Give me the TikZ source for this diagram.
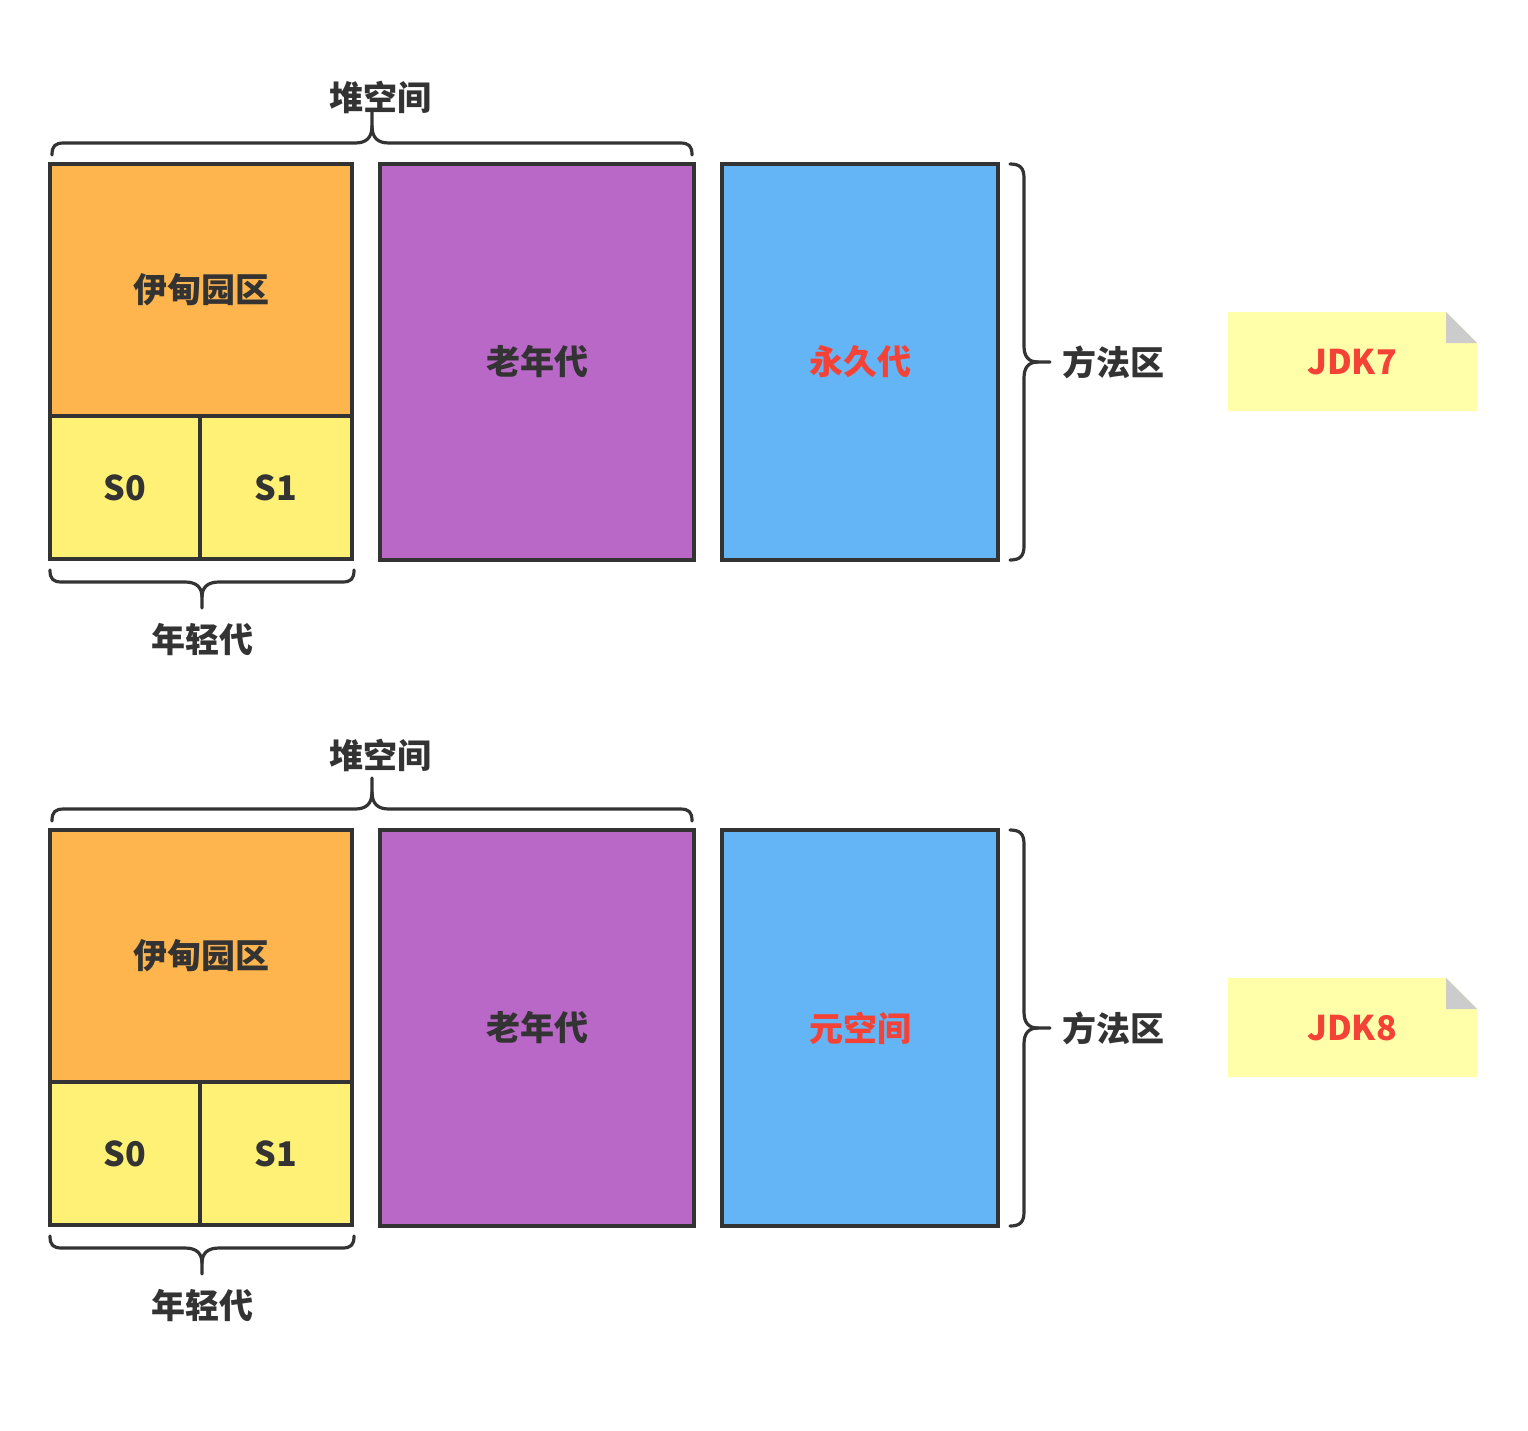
\documentclass[tikz,border=0pt]{standalone}
\usepackage{fontspec}
\setmainfont{Noto Sans CJK SC}
\definecolor{ink}{HTML}{333333}
\definecolor{edenc}{HTML}{FFB54D}
\definecolor{survc}{HTML}{FFF176}
\definecolor{oldc}{HTML}{B968C7}
\definecolor{permc}{HTML}{64B5F6}
\definecolor{notec}{HTML}{FFFFAA}
\definecolor{foldc}{HTML}{CCCCCC}
\definecolor{redc}{HTML}{F44336}
\tikzset{
  box/.style={draw=ink, line width=4pt, rectangle, inner sep=0pt},
  lbl/.style={text=ink, font=\fontsize{34}{40}\selectfont\bfseries, inner sep=0pt},
  redlbl/.style={text=redc, font=\fontsize{34}{40}\selectfont\bfseries, inner sep=0pt},
  brace/.style={draw=ink, line width=3.2pt, line cap=round, line join=round}
}
\newcommand{\panel}[4]{%
  \begin{scope}[shift={(0,#1)}]
    \node[box, fill=edenc, minimum width=302pt, minimum height=252pt] (eden#3) at (201,290) {};
    \node[lbl] at (eden#3.center) {伊甸园区};
    \node[box, fill=survc, minimum width=150pt, minimum height=143pt] (szero#3) at (125,487.5) {};
    \node[lbl] at (szero#3.center) {S0};
    \node[box, fill=survc, minimum width=152pt, minimum height=143pt] (sone#3) at (276,487.5) {};
    \node[lbl] at (sone#3.center) {S1};
    \node[box, fill=oldc, minimum width=314pt, minimum height=396pt] (old#3) at (537,362) {};
    \node[lbl] at (old#3.center) {老年代};
    \node[box, fill=permc, minimum width=276pt, minimum height=396pt] (perm#3) at (860,362) {};
    \node[redlbl] at (perm#3.center) {#2};
    % heap brace
    \coordinate (heaptip#3) at (372,112);
    \draw[brace] (52,155) .. controls (52,146) and (55,143) .. (64,143) -- (355,143)
      .. controls (366,143) and (372,138) .. (372,126) -- (heaptip#3);
    \draw[brace] (372,126) .. controls (372,138) and (378,143) .. (389,143) -- (680,143)
      .. controls (689,143) and (692,146) .. (692,155);
    \node[lbl] (heaplbl#3) at (380,#4) {堆空间};
    % young brace
    \coordinate (youngtip#3) at (202,608);
    \draw[brace] (50,570) .. controls (50,579) and (53,582) .. (62,582) -- (185,582)
      .. controls (196,582) and (202,587) .. (202,597) -- (youngtip#3);
    \draw[brace] (202,597) .. controls (202,587) and (208,582) .. (219,582) -- (342,582)
      .. controls (351,582) and (354,579) .. (354,570);
    \node[lbl] (younglbl#3) at (202,640) {年轻代};
    % method area brace
    \coordinate (methtip#3) at (1050,362);
    \draw[brace] (1010,164) .. controls (1020,164) and (1024,168) .. (1024,178) -- (1024,346)
      .. controls (1024,356) and (1028,362) .. (1038,362) -- (methtip#3);
    \draw[brace] (1038,362) .. controls (1028,362) and (1024,368) .. (1024,378) -- (1024,546)
      .. controls (1024,556) and (1020,560) .. (1010,560);
    \node[lbl] (methlbl#3) at (1113,362) {方法区};
    % note
    \fill[notec] (1228,312) -- (1446,312) -- (1477,343) -- (1477,411) -- (1228,411) -- cycle;
    \fill[foldc] (1446,312) -- (1477,343) -- (1446,343) -- cycle;
    \node[redlbl] (note#3) at (1352,362) {JDK#3};
  \end{scope}}
\begin{document}
\begin{tikzpicture}[x=1pt,y=-1pt]
  \useasboundingbox (0,0) rectangle (1528,1430);
  \fill[white] (0,0) rectangle (1528,1430);
  \panel{0}{永久代}{7}{97}
  \panel{666}{元空间}{8}{89}
\end{tikzpicture}
\end{document}
